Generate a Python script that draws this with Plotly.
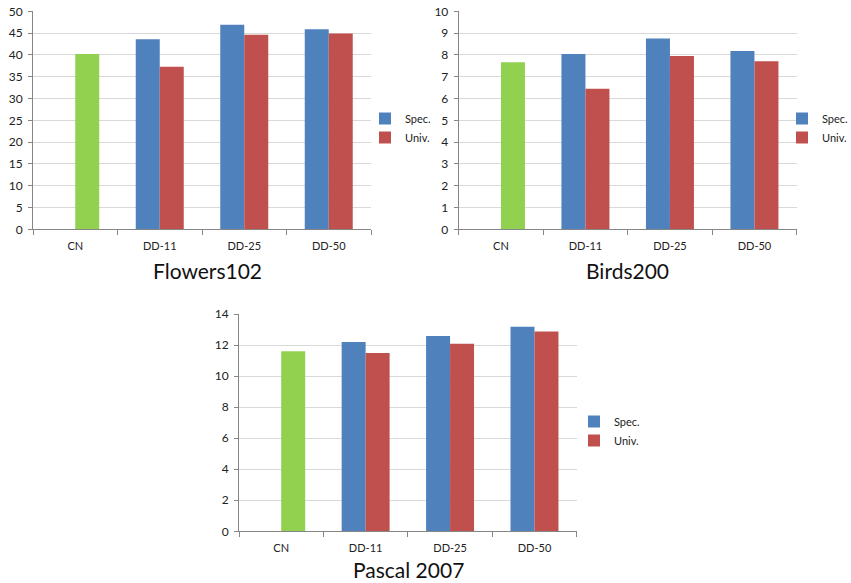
import plotly.graph_objects as go

categories = ["CN", "DD-11", "DD-25", "DD-50"]

flowers_spec = [None, 43.6, 46.9, 45.9]
flowers_univ = [None, 37.3, 44.6, 44.9]
flowers_cn = [40.2, None, None, None]

birds_spec = [None, 8.04, 8.75, 8.18]
birds_univ = [None, 6.45, 7.95, 7.71]
birds_cn = [7.66, None, None, None]

pascal_spec = [None, 12.2, 12.58, 13.18]
pascal_univ = [None, 11.49, 12.09, 12.88]
pascal_cn = [11.6, None, None, None]

titles = ["Flowers102", "Birds200", "Pascal 2007"]
y_ranges = [(0, 50, 5), (0, 10, 1), (0, 14, 2)]

BLUE = "#4F81BD"
RED = "#C0504D"
GREEN = "#92D050"
GRID = "#D9D9D9"
AXIS = "#868686"
FONT = "Lato"

W, H = 851, 583

# plot areas in pixels: (left, right, top, bottom)
areas = [(33, 371, 11.3, 229.3), (458.7, 796.7, 11.3, 229.3), (239, 576.7, 314, 531.3)]
legend_pos = [(365, 104), (782, 104), (574, 407)]
title_pos = [(207, 270), (627, 270), (408, 569)]

panels = [
    (flowers_spec, flowers_univ, flowers_cn),
    (birds_spec, birds_univ, birds_cn),
    (pascal_spec, pascal_univ, pascal_cn),
]

fig = go.Figure()
layout = dict(
    width=W, height=H, margin=dict(l=0, r=0, t=0, b=0, autoexpand=False),
    paper_bgcolor="white", plot_bgcolor="white",
    barmode="group", bargap=0.432, bargroupgap=0,
    font=dict(family=FONT, color="#222"),
    annotations=[],
)

for i, (spec, univ, cn) in enumerate(panels):
    sfx = "" if i == 0 else str(i + 1)
    xa, ya = "x" + sfx, "y" + sfx
    leg = "legend" + sfx
    fig.add_trace(go.Bar(x=categories, y=spec, name="Spec.", marker=dict(color=BLUE, line=dict(width=0)),
                         xaxis=xa, yaxis=ya, offsetgroup="spec", legend=leg))
    fig.add_trace(go.Bar(x=categories, y=univ, name="Univ.", marker=dict(color=RED, line=dict(width=0)),
                         xaxis=xa, yaxis=ya, offsetgroup="univ", legend=leg))
    fig.add_trace(go.Bar(x=categories, y=cn, name="CN", marker=dict(color=GREEN, line=dict(width=0)),
                         xaxis=xa, yaxis=ya, offsetgroup="univ", showlegend=False, legend=leg))

    l, r, t, b = areas[i]
    y0, y1, dy = y_ranges[i]
    layout["xaxis" + sfx] = dict(
        domain=[l / W, r / W], anchor=ya, type="category", automargin=False,
        showline=True, linecolor=AXIS, linewidth=1,
        ticks="outside", tickson="boundaries", ticklen=5, tickcolor=AXIS,
        ticklabelstandoff=6,
        showgrid=False, tickfont=dict(size=11, family=FONT, color="#222"),
        fixedrange=True,
    )
    layout["yaxis" + sfx] = dict(
        domain=[1 - b / H, 1 - t / H], anchor=xa, range=[y0, y1], dtick=dy, automargin=False,
        showline=True, linecolor=AXIS, linewidth=1,
        ticks="outside", ticklen=4, tickcolor=AXIS,
        ticklabelstandoff=3,
        showgrid=True, gridcolor=GRID, gridwidth=1, zeroline=False,
        tickfont=dict(size=12, family=FONT, color="#222"),
        fixedrange=True,
    )
    lx, ly = legend_pos[i]
    layout[leg] = dict(
        x=lx / W, y=1 - ly / H, xanchor="left", yanchor="top",
        font=dict(size=11, family=FONT, color="#222"),
        itemwidth=30, tracegroupgap=0, bgcolor="rgba(0,0,0,0)",
    )
    tx, ty = title_pos[i]
    layout["annotations"].append(dict(
        text=titles[i], x=tx / W, y=1 - ty / H, xref="paper", yref="paper",
        xanchor="center", yanchor="middle", showarrow=False,
        font=dict(size=21, family=FONT, color="#111"),
    ))

fig.update_layout(**layout)
fig.write_html("out.html")
